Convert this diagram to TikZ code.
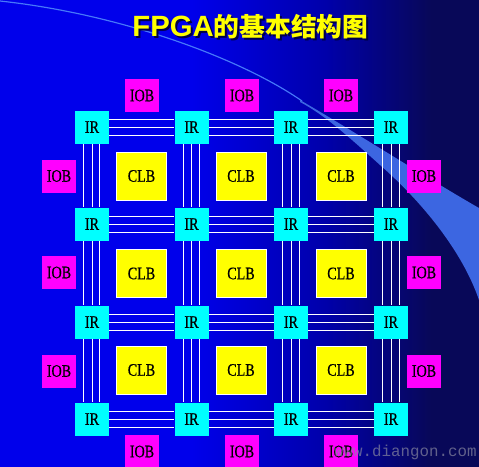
\documentclass[tikz,border=0pt]{standalone}
\usepackage{fontspec}
\setmainfont{Liberation Serif}
\newfontfamily\boxfont[FakeStretch=0.8, FakeBold=0.6]{Liberation Serif}
\newfontfamily\titlefont{Liberation Sans}
\newfontfamily\cjk{Noto Sans CJK SC}
\newfontfamily\markfont{Liberation Mono}

\definecolor{bgleft}{RGB}{0,0,235}
\definecolor{bgmid}{RGB}{0,0,170}
\definecolor{bgright}{RGB}{8,8,88}
\definecolor{swoosh}{RGB}{60,102,225}
\definecolor{swooshline}{RGB}{70,120,250}
\definecolor{ircyan}{RGB}{0,255,255}
\definecolor{iobpink}{RGB}{255,0,255}
\definecolor{clbyellow}{RGB}{255,255,0}
\definecolor{shadowblue}{RGB}{0,0,70}
\definecolor{markgray}{RGB}{135,135,160}

\pgfdeclarehorizontalshading{bgshade}{100bp}{color(0bp)=(bgleft); color(45bp)=(bgleft); color(59bp)=(bgmid); color(70bp)=(bgright); color(100bp)=(bgright)}

\newcommand{\titletext}{{\titlefont\bfseries\fontsize{25}{25}\selectfont FPGA}{\cjk\bfseries\fontsize{22}{22}\selectfont 的基本结构图}}

\tikzset{
  cell/.style={inner sep=0pt, font=\boxfont\fontsize{15}{15}\selectfont},
  irbox/.style={cell, fill=ircyan, minimum width=1.02cm, minimum height=0.99cm},
  iobbox/.style={cell, fill=iobpink, minimum width=1.02cm, minimum height=0.99cm},
  clbbox/.style={cell, fill=clbyellow, draw=white, line width=0.8pt, minimum width=1.5cm, minimum height=1.44cm},
  wire/.style={white, line width=0.8pt},
}

\begin{document}
\begin{tikzpicture}[x=0.03cm, y=-0.03cm]
            \useasboundingbox (0,0) rectangle (479,466);
            \shade[shading=bgshade] (0,0) rectangle (479,466);
            % swoosh
            \draw[swooshline, line width=1pt] (0,1) .. controls (120,14) and (240,58) .. (302,101);
            \fill[swoosh] (300,100) .. controls (360,135) and (430,180) .. (479,208) -- (479,300)
                .. controls (462,250) and (420,200) .. (380,165)
                .. controls (350,138) and (325,115) .. (300,102) -- cycle;
            % title
            \node[anchor=base, text=shadowblue] (title-shadow) at (252.5,38) {\titletext};
            \node[anchor=base, text=clbyellow] (title) at (250.5,36) {\titletext};
            % IR grid
            \foreach \c/\x in {1/92,2/191.5,3/291,4/391} {
                \foreach \r/\y in {1/127,2/224,3/322,4/419} {
                    \node[irbox] (ir-\c-\r) at (\x,\y) {IR};
                }
            }
            % CLB
            \foreach \c/\x in {1/141.5,2/241,3/341} {
                \foreach \r/\y in {1/176,2/273.5,3/370} {
                    \node[clbbox] (clb-\c-\r) at (\x,\y) {CLB};
                }
            }
            % IOB ring
            \foreach \i/\x in {1/142,2/242,3/341} {
                \node[iobbox] (iob-top-\i) at (\x,95.5) {IOB};
                \node[iobbox] (iob-bot-\i) at (\x,451.5) {IOB};
            }
            \foreach \i/\y in {1/176,2/272.5,3/371} {
                \node[iobbox] (iob-left-\i) at (59,\y) {IOB};
                \node[iobbox] (iob-right-\i) at (424,\y) {IOB};
            }
            % routing channels
            \foreach \r in {1,...,4} {
                \foreach \a/\b in {1/2,2/3,3/4} {
                    \foreach \o in {-6.8pt,0pt,6.8pt}
                        \draw[wire] ([yshift=\o]ir-\a-\r.east) -- ([yshift=\o]ir-\b-\r.west);
                }
            }
            \foreach \c in {1,...,4} {
                \foreach \a/\b in {1/2,2/3,3/4} {
                    \foreach \o in {-7pt,0pt,6.8pt}
                        \draw[wire] ([xshift=\o]ir-\c-\a.south) -- ([xshift=\o]ir-\c-\b.north);
                }
            }
            \node[anchor=base west, font=\markfont\fontsize{13.5}{13.5}\selectfont, text=markgray, text opacity=0.7] (watermark) at (330,456) {www.diangon.com};
        \end{tikzpicture}
\end{document}
